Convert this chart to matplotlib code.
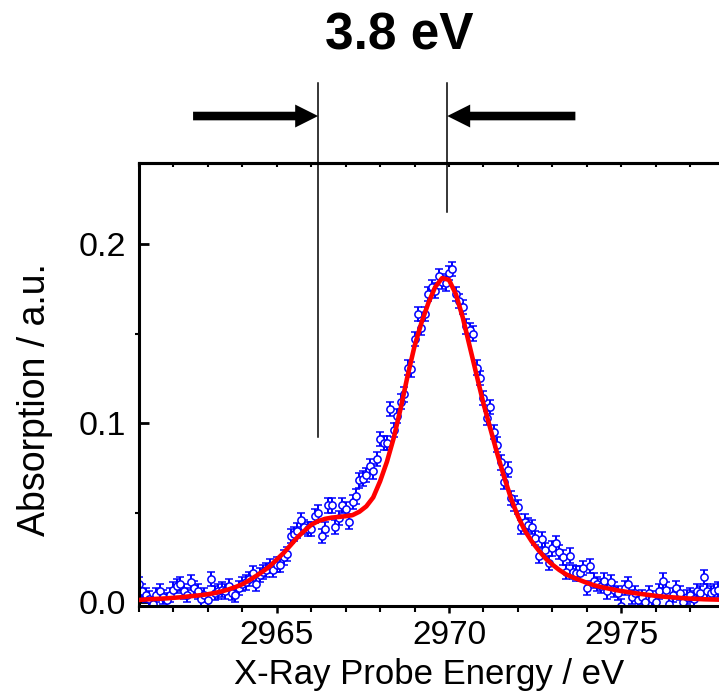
import numpy as np
import matplotlib
matplotlib.use('Agg')
import matplotlib.pyplot as plt
from matplotlib.ticker import MultipleLocator

plt.rcParams['font.family'] = ['Liberation Sans', 'DejaVu Sans']

# ---------------- data ----------------
energy_start = 2961.0
energy_step = 0.1
absorption = [
    0.010, 0.006, 0.004, 0.002, -0.001, 0.004, 0.006, 0.003, 0.001, 0.004,   # 2961
    0.007, 0.009, 0.010, 0.006, 0.004, 0.011, 0.008, 0.006, 0.002, 0.004,    # 2962
    0.001, 0.013, 0.005, 0.006, 0.007, 0.006, 0.009, 0.005, 0.004, 0.008,    # 2963
    0.010, 0.011, 0.013, 0.016, 0.010, 0.015, 0.017, 0.018, 0.020, 0.018,    # 2964
    0.021, 0.021, 0.025, 0.027, 0.037, 0.038, 0.040, 0.046, 0.042, 0.041,    # 2965
    0.041, 0.048, 0.050, 0.037, 0.041, 0.054, 0.054, 0.042, 0.047, 0.054,    # 2966
    0.052, 0.045, 0.056, 0.059, 0.068, 0.069, 0.071, 0.076, 0.073, 0.080,    # 2967
    0.091, 0.089, 0.089, 0.108, 0.096, 0.104, 0.112, 0.116, 0.131, 0.130,    # 2968
    0.147, 0.161, 0.153, 0.161, 0.172, 0.176, 0.174, 0.182, 0.179, 0.178,    # 2969
    0.184, 0.186, 0.172, 0.168, 0.165, 0.154, 0.152, 0.150, 0.131, 0.125,    # 2970
    0.114, 0.103, 0.109, 0.095, 0.088, 0.078, 0.067, 0.074, 0.058, 0.055,    # 2971
    0.053, 0.042, 0.045, 0.043, 0.042, 0.036, 0.026, 0.035, 0.029, 0.022,    # 2972
    0.030, 0.033, 0.028, 0.025, 0.017, 0.026, 0.017, 0.016, 0.016, 0.019,    # 2973
    0.008, 0.020, 0.012, 0.010, 0.009, 0.012, 0.006, 0.011, 0.007, 0.005,    # 2974
    -0.002, 0.008, 0.010, 0.003, 0.005, 0.001, 0.003, 0.000, 0.005, 0.002,   # 2975
    0.000, 0.006, 0.012, 0.007, -0.001, 0.004, 0.008, 0.005, 0.000, 0.003,   # 2976
    0.004, 0.002, 0.006, 0.005, 0.014, 0.006, 0.005, 0.006, 0.007,           # 2977
]
absorption_err = 0.004

fit_start = 2961.0
fit_step = 0.2
fit = [
    0.0012, 0.0015, 0.0017, 0.0019, 0.0021,   # 2961
    0.0024, 0.0027, 0.0031, 0.0035, 0.0039,   # 2962
    0.0044, 0.0051, 0.0060, 0.0071, 0.0084,   # 2963
    0.0100, 0.0122, 0.0146, 0.0172, 0.0201,   # 2964
    0.0238, 0.0275, 0.0318, 0.0362, 0.0398,   # 2965
    0.0432, 0.0452, 0.0465, 0.0472, 0.0476,   # 2966
    0.0480, 0.0486, 0.0505, 0.0535, 0.0585,   # 2967
    0.0675, 0.0785, 0.0920, 0.1085, 0.1265,   # 2968
    0.1430, 0.1560, 0.1670, 0.1760, 0.1810,   # 2969
    0.1800, 0.1720, 0.1590, 0.1430, 0.1270,   # 2970
    0.1110, 0.0970, 0.0830, 0.0700, 0.0580,   # 2971
    0.0480, 0.0400, 0.0340, 0.0290, 0.0245,   # 2972
    0.0210, 0.0180, 0.0155, 0.0138, 0.0123,   # 2973
    0.0108, 0.0095, 0.0085, 0.0077, 0.0069,   # 2974
    0.0062, 0.0056, 0.0050, 0.0045, 0.0040,   # 2975
    0.0035, 0.0031, 0.0028, 0.0025, 0.0022,   # 2976
    0.0020, 0.0018, 0.0016, 0.0015, 0.0014,   # 2977
]

x_ticks = [2965, 2970, 2975]
y_ticks = [0.0, 0.1, 0.2]
y_tick_labels = ['0.0', '0.1', '0.2']
edge_positions = [2966.2, 2969.95]
separation_label = '3.8 eV'
x_label = 'X-Ray Probe Energy / eV'
y_label = 'Absorption / a.u.'

# ---------------- figure ----------------
energy = energy_start + energy_step * np.arange(len(absorption))
fit_energy = fit_start + fit_step * np.arange(len(fit))

W, H = 719, 693
fig = plt.figure(figsize=(W / 100, H / 100), dpi=100)
ax_left, ax_right, ax_top, ax_bottom = 139, 719, 163.3, 605.7
ax = fig.add_axes([ax_left / W, (H - ax_bottom) / H,
                   (ax_right - ax_left) / W, (ax_bottom - ax_top) / H])

ax.errorbar(energy, absorption, yerr=absorption_err, fmt='o', ms=5.2,
            mfc='white', mec='blue', mew=1.1, ecolor='blue',
            elinewidth=1.4, capsize=2.6, capthick=1.4, zorder=2)
ax.plot(fit_energy, fit, color='red', lw=3.3, zorder=3,
        solid_joinstyle='round')

ax.set_xlim(2961, 2977.84)
ax.set_ylim(-0.002, 0.2451)

ax.set_xticks(x_ticks)
ax.xaxis.set_minor_locator(MultipleLocator(1))
ax.set_yticks(y_ticks)
ax.set_yticklabels(y_tick_labels)
ax.yaxis.set_minor_locator(MultipleLocator(0.05))

for s in ['left', 'bottom', 'top']:
    ax.spines[s].set_linewidth(2.2)
ax.spines['right'].set_visible(False)

ax.tick_params(axis='x', which='major', direction='out', length=5, width=1.8,
               labelsize=24, pad=5)
ax.tick_params(axis='x', which='minor', direction='out', length=4, width=1.5)
ax.tick_params(axis='y', which='major', direction='in', length=7, width=2,
               labelsize=24.5, pad=9)
ax.tick_params(axis='y', which='minor', direction='out', length=3, width=1.5)

secax = ax.secondary_xaxis('top')
secax.xaxis.set_major_locator(MultipleLocator(1))
secax.tick_params(direction='in', length=3, width=1.5, labeltop=False)
secax.spines['top'].set_linewidth(2.2)

ax.set_xlabel(x_label, fontsize=25, labelpad=5.5)
ax.set_ylabel(y_label, fontsize=27)
ax.yaxis.set_label_coords(-0.148, 0.467)

# vertical markers
line_top = 0.290
line_bottoms = [0.0922, 0.2179]
for xp, yb in zip(edge_positions, line_bottoms):
    ax.plot([xp, xp], [yb, line_top], color='black', lw=1.1, clip_on=False)

# arrows
arrow_y = 0.2715
arrow_tails = [2962.57, 2973.67]
for xp, xt in zip(edge_positions, arrow_tails):
    ax.annotate('', xy=(xp, arrow_y), xytext=(xt, arrow_y),
                xycoords='data', textcoords='data', annotation_clip=False,
                arrowprops=dict(arrowstyle='simple,head_length=1.65,head_width=1.65,tail_width=0.62',
                                color='black', lw=0, shrinkA=0, shrinkB=0))

fig.text(399 / W, 1 - 50 / H, separation_label, fontsize=37,
         fontweight='bold', ha='center', va='baseline')

fig.savefig('out.png', dpi=100)
